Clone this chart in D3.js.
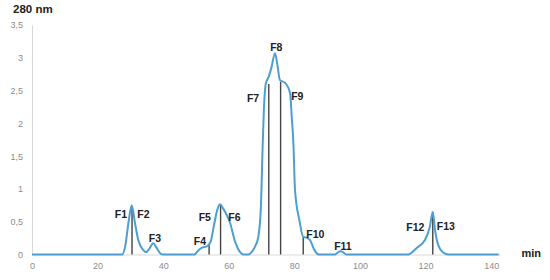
<!DOCTYPE html>
<html lang="en">
<head>
    <meta charset="UTF-8">
    <title>280 nm chromatogram</title>
    <script src="https://cdn.jsdelivr.net/npm/d3@7"></script>
    <style>
        body {margin: 0; background: #fff;}
        svg {display: block; font-family: "Liberation Sans", Arial, sans-serif;}
        .tick text {fill: #8c8c8c; font-size: 9px;}
        .frac {font-weight: bold; font-size: 10.5px; fill: #222;}
    </style>
</head>
<body>
<svg id="chart"></svg>
<script>
    // DATA: elution profile (time in min, absorbance at 280 nm)
    const time = [0, 27.5, 28.4, 29.4, 30.4, 31.4, 32.4, 33.9, 34.8, 35.8, 37.0, 38.0, 39.3, 40,
                  49.5, 50.5, 51.7, 53.5, 54.5, 55.5, 56.5, 57.3, 58.3, 59.4, 60.4, 61.9, 63.4, 64.5,
                  66, 67, 68, 69, 69.8, 70.3, 70.7, 71.3, 72.1, 73, 74.1, 74.8, 75.6, 77.1, 78.7,
                  79.2, 79.7, 80.2, 81.5, 82.7, 83.5, 84.8, 85.8, 86.8, 87.5, 92.4, 93.2, 94.1, 95.0,
                  95.8, 114.7, 117.3, 119.8, 121.3, 122.2, 122.9, 123.9, 125.4, 127, 142.3];
    const absorbance = [0, 0, 0.12, 0.48, 0.75, 0.48, 0.22, 0.07, 0.035, 0.09, 0.17, 0.1, 0.01, 0,
                        0, 0.05, 0.1, 0.13, 0.2, 0.45, 0.68, 0.765, 0.7, 0.6, 0.48, 0.2, 0.04, 0,
                        0, 0.04, 0.12, 0.27, 0.73, 1.6, 2.2, 2.61, 2.7, 2.85, 3.07, 2.9, 2.66, 2.62, 2.46,
                        2.1, 1.7, 0.98, 0.53, 0.27, 0.26, 0.22, 0.1, 0.02, 0, 0, 0.03, 0.05, 0.03,
                        0, 0, 0.1, 0.22, 0.42, 0.65, 0.37, 0.14, 0.03, 0, 0];

    // fraction cut lines: time and height reached
    const cutTime = [30.5, 54, 57.5, 72.2, 75.8, 82.7, 122.2];
    const cutTop = [0.74, 0.15, 0.76, 2.6, 2.63, 0.27, 0.65];

    // fraction labels, anchored in data units
    const fracName = ["F1", "F2", "F3", "F4", "F5", "F6", "F7", "F8", "F9", "F10", "F11", "F12", "F13"];
    const fracX = [27.1, 34.0, 37.5, 51.2, 52.7, 61.7, 67.4, 74.5, 80.9, 86.4, 94.8, 116.9, 126.2];
    const fracY = [0.62, 0.62, 0.25, 0.21, 0.57, 0.57, 2.39, 3.17, 2.41, 0.31, 0.13, 0.42, 0.43];

    const xTicks = [0, 20, 40, 60, 80, 100, 120, 140];
    const yTicks = [0, 0.5, 1, 1.5, 2, 2.5, 3, 3.5];

    const profile = time.map((t, i) => ({t, a: absorbance[i]}));

    const width = 550, height = 280;
    const svg = d3.select("#chart").attr("width", width).attr("height", height);

    const x = d3.scaleLinear().domain([0, 142.7]).range([32, 500]);
    const y = d3.scaleLinear().domain([0, 3.5]).range([254.5, 25]);
    const comma = d => String(d).replace(".", ",");

    // Axes
    const gx = svg.append("g").attr("transform", `translate(0,${y(0)})`)
                  .call(d3.axisBottom(x).tickValues(xTicks).tickSize(0).tickPadding(8).tickSizeOuter(0));
    const gy = svg.append("g").attr("transform", `translate(${x(0)},0)`)
                  .call(d3.axisLeft(y).tickValues(yTicks).tickFormat(comma).tickSize(0).tickPadding(9).tickSizeOuter(0));
    gx.select(".domain").attr("stroke", "#d9d9d9");
    gy.select(".domain").attr("stroke", "#d9d9d9");

    // Fraction cut lines
    svg.append("g").selectAll("line")
       .data(cutTime)
       .join("line")
         .attr("x1", d => x(d)).attr("x2", d => x(d))
         .attr("y1", y(0)).attr("y2", (d, i) => y(cutTop[i]))
         .attr("stroke", "#444").attr("stroke-width", 1.4);

    // Profile
    const line = d3.line().x(d => x(d.t)).y(d => y(d.a)).curve(d3.curveMonotoneX);
    svg.append("path").datum(profile)
       .attr("d", line)
       .attr("fill", "none")
       .attr("stroke", "#4d9fd1")
       .attr("stroke-width", 2);

    // Fraction labels
    svg.append("g").selectAll("text")
       .data(fracName)
       .join("text").attr("class", "frac")
         .attr("x", (d, i) => x(fracX[i]))
         .attr("y", (d, i) => y(fracY[i]))
         .attr("text-anchor", "middle")
         .attr("dominant-baseline", "central")
         .text(d => d);

    // Axis titles
    svg.append("text").attr("x", 13).attr("y", 12.5)
       .attr("font-weight", "bold").attr("font-size", 11.5).attr("fill", "#222")
       .text("280 nm");
    svg.append("text").attr("x", 521.5).attr("y", 257)
       .attr("font-weight", "bold").attr("font-size", 11).attr("fill", "#222")
       .text("min");
</script>
</body>
</html>
